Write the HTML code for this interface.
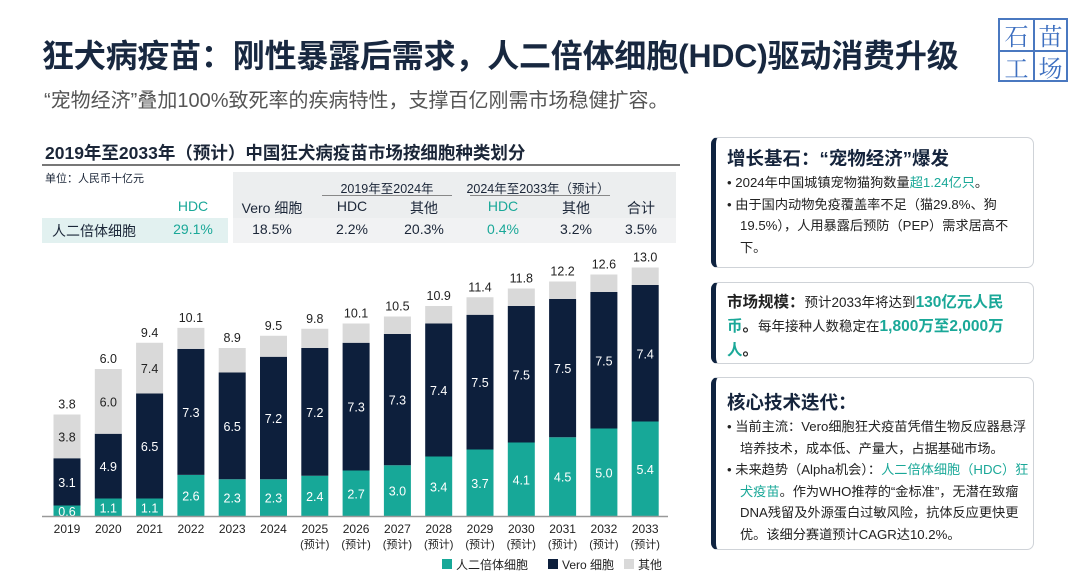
<!DOCTYPE html>
<html><head><meta charset="utf-8">
<style>
*{margin:0;padding:0;box-sizing:border-box}
body{width:1080px;height:585px;background:#fff;font-family:"Liberation Sans","Noto Sans CJK SC",sans-serif;color:#1b2638;position:relative;overflow:hidden}
.abs{position:absolute}
.t{color:#1aa898}
.box{position:absolute;left:711px;width:323px;border:1px solid #cfd3d8;border-left:5px solid #0f2340;border-radius:7px;background:#fff;padding:8px 3px 0 11px}
.box h3{font-size:18.5px;font-weight:bold;color:#15243c;line-height:25px;margin-bottom:1px}
.box p{font-size:13.2px;line-height:21.5px;padding-left:13px;text-indent:-13px;color:#222}
.box p.big{font-size:15.5px;line-height:24px;padding-left:0;text-indent:0;font-weight:bold}
.th{position:absolute;font-size:14px;text-align:center;transform:translateX(-50%);white-space:nowrap}
</style></head><body>
<div class="abs" style="left:42px;top:31px;font-size:32px;font-weight:bold;color:#182840;white-space:nowrap;letter-spacing:-0.2px">狂犬病疫苗：刚性暴露后需求，人二倍体细胞(HDC)驱动消费升级</div>
<div class="abs" style="left:44px;top:84px;font-size:20px;color:#555;white-space:nowrap">“宠物经济”叠加100%致死率的疾病特性，支撑百亿刚需市场稳健扩容。</div>
<div class="abs" style="left:998px;top:18px;width:70px;height:64px;border:2px solid #4a78c0;color:#3d6fc0;font-size:24px;display:grid;grid-template-columns:1fr 1fr;text-align:center;line-height:30px;font-family:'Noto Serif CJK SC',serif">
<span>石</span><span style="border-left:2px solid #4a78c0">苗</span><span style="border-top:2px solid #4a78c0">工</span><span style="border-top:2px solid #4a78c0;border-left:2px solid #4a78c0">场</span></div>

<div class="abs" style="left:45px;top:140px;font-size:17.5px;font-weight:bold;white-space:nowrap">2019年至2033年（预计）中国狂犬病疫苗市场按细胞种类划分</div>
<div class="abs" style="left:42px;top:164px;width:638px;height:2px;background:#777"></div>
<div class="abs" style="left:45px;top:170px;font-size:11px">单位：人民币十亿元</div>

<div class="abs" style="left:233px;top:172px;width:443px;height:46px;background:#eceeef"></div>
<div class="abs" style="left:42px;top:218px;width:186px;height:25px;background:#e2f1f0"></div>
<div class="abs" style="left:233px;top:218px;width:443px;height:25px;background:#f1f2f3"></div>
<div class="th" style="left:387px;top:178px;font-size:12.5px">2019年至2024年</div>
<div class="abs" style="left:322px;top:195px;width:130px;height:1px;background:#888"></div>
<div class="th" style="left:538px;top:178px;font-size:12.5px">2024年至2033年（预计）</div>
<div class="abs" style="left:470px;top:195px;width:140px;height:1px;background:#888"></div>
<div class="th t" style="left:193px;top:198px">HDC</div>
<div class="th" style="left:272px;top:198px">Vero 细胞</div>
<div class="th" style="left:352px;top:198px">HDC</div>
<div class="th" style="left:424px;top:198px">其他</div>
<div class="th t" style="left:503px;top:198px">HDC</div>
<div class="th" style="left:576px;top:198px">其他</div>
<div class="th" style="left:641px;top:198px">合计</div>
<div class="abs" style="left:52px;top:221px;font-size:14px">人二倍体细胞</div>
<div class="th t" style="left:193px;top:221px">29.1%</div>
<div class="th" style="left:272px;top:221px">18.5%</div>
<div class="th" style="left:352px;top:221px">2.2%</div>
<div class="th" style="left:424px;top:221px">20.3%</div>
<div class="th t" style="left:503px;top:221px">0.4%</div>
<div class="th" style="left:576px;top:221px">3.2%</div>
<div class="th" style="left:641px;top:221px">3.5%</div>

<svg class="abs" id="chart" style="left:0;top:0" width="700" height="585"></svg>

<div class="box" style="top:137px;height:131px">
<h3>增长基石：“宠物经济”爆发</h3>
<p>• 2024年中国城镇宠物猫狗数量<span class="t">超1.24亿只</span>。</p>
<p>• 由于国内动物免疫覆盖率不足（猫29.8%、狗19.5%），人用暴露后预防（PEP）需求居高不下。</p>
</div>
<div class="box" style="top:282px;height:82px">
<p class="big">市场规模：<span style="font-weight:normal;font-size:13.5px">预计2033年将达到</span><span class="t">130亿元人民币</span>。<span style="font-weight:normal;font-size:13.5px">每年接种人数稳定在</span><span class="t">1,800万至2,000万人</span>。</p>
</div>
<div class="box" style="top:377px;height:173px;padding-top:12px">
<h3>核心技术迭代：</h3>
<p>• 当前主流：Vero细胞狂犬疫苗凭借生物反应器悬浮培养技术，成本低、产量大，占据基础市场。</p>
<p>• 未来趋势（Alpha机会）：<span class="t">人二倍体细胞（HDC）狂犬疫苗</span>。作为WHO推荐的“金标准”，无潜在致瘤DNA残留及外源蛋白过敏风险，抗体反应更快更优。该细分赛道预计CAGR达10.2%。</p>
</div>

<script>
const years = ["2019","2020","2021","2022","2023","2024","2025","2026","2027","2028","2029","2030","2031","2032","2033"];
const forecast = [0,0,0,0,0,0,1,1,1,1,1,1,1,1,1];
const hdcVals = [0.6,1.0,1.0,2.35,2.1,2.1,2.3,2.6,2.9,3.4,3.8,4.2,4.5,5.0,5.4];
const veroVals = [2.7,3.7,6.0,7.2,6.1,7.0,7.3,7.3,7.5,7.6,7.7,7.8,7.9,7.8,7.8];
const otherVals = [2.5,3.7,2.9,1.2,1.4,1.2,1.1,1.1,1.0,1.0,1.0,1.0,1.0,1.0,1.0];
const hdcLabels = ["0.6","1.1","1.1","2.6","2.3","2.3","2.4","2.7","3.0","3.4","3.7","4.1","4.5","5.0","5.4"];
const veroLabels = ["3.1","4.9","6.5","7.3","6.5","7.2","7.2","7.3","7.3","7.4","7.5","7.5","7.5","7.5","7.4"];
const otherLabels = ["3.8","6.0","7.4","","","","","","","","","","","",""];
const totalLabels = ["3.8","6.0","9.4","10.1","8.9","9.5","9.8","10.1","10.5","10.9","11.4","11.8","12.2","12.6","13.0"];

const svg = document.getElementById('chart');
const NS = 'http://www.w3.org/2000/svg';
const base = 516, k = 17.5, x0 = 67, step = 41.3, bw = 27;
const xAt = i => x0 + i*step;
const yAt = v => base - v*k;
function mk(tag, attrs, txt){const e=document.createElementNS(NS,tag);for(const a in attrs)e.setAttribute(a,attrs[a]);if(txt!==undefined)e.textContent=txt;svg.appendChild(e);return e;}
const cols = ["#17a898","#0d1f3c","#d9d9d9"];
years.forEach((y,i)=>{
  const segs=[hdcVals[i],veroVals[i],otherVals[i]];
  const labs=[hdcLabels[i],veroLabels[i],otherLabels[i]];
  let acc=0;
  segs.forEach((v,j)=>{
    const r=mk('rect',{x:xAt(i)-bw/2,y:yAt(acc+v),width:bw,height:v*k,fill:cols[j]});
    
    
    if(labs[j]){
      const t=mk('text',{x:xAt(i),y:yAt(acc+v/2)+5,'text-anchor':'middle','font-size':12.5,fill:j==2?'#222':'#fff'},labs[j]);
      
      
    }
    acc+=v;
  });
  const tt=mk('text',{x:xAt(i),y:yAt(acc)-6,'text-anchor':'middle','font-size':12.5,fill:'#222'},totalLabels[i]);
  
  
  const xl=mk('text',{x:xAt(i),y:533,'text-anchor':'middle','font-size':12,fill:'#222'},y);
  
  
  if(forecast[i]){
    const fl=mk('text',{x:xAt(i),y:548,'text-anchor':'middle','font-size':11,fill:'#222'},'(预计)');
    
    
  }
});
const ax=mk('line',{x1:42,x2:668,y1:base+0.5,y2:base+0.5,stroke:'#999','stroke-width':1.5});


const legend=[["人二倍体细胞",442],["Vero 细胞",548],["其他",624]];
legend.forEach((l,j)=>{
  const s=mk('rect',{x:l[1],y:559,width:10,height:10,fill:cols[j]});
  
  
  const t=mk('text',{x:l[1]+14,y:569,'font-size':12,fill:'#222'},l[0]);
  
  
});
</script>
</body></html>
